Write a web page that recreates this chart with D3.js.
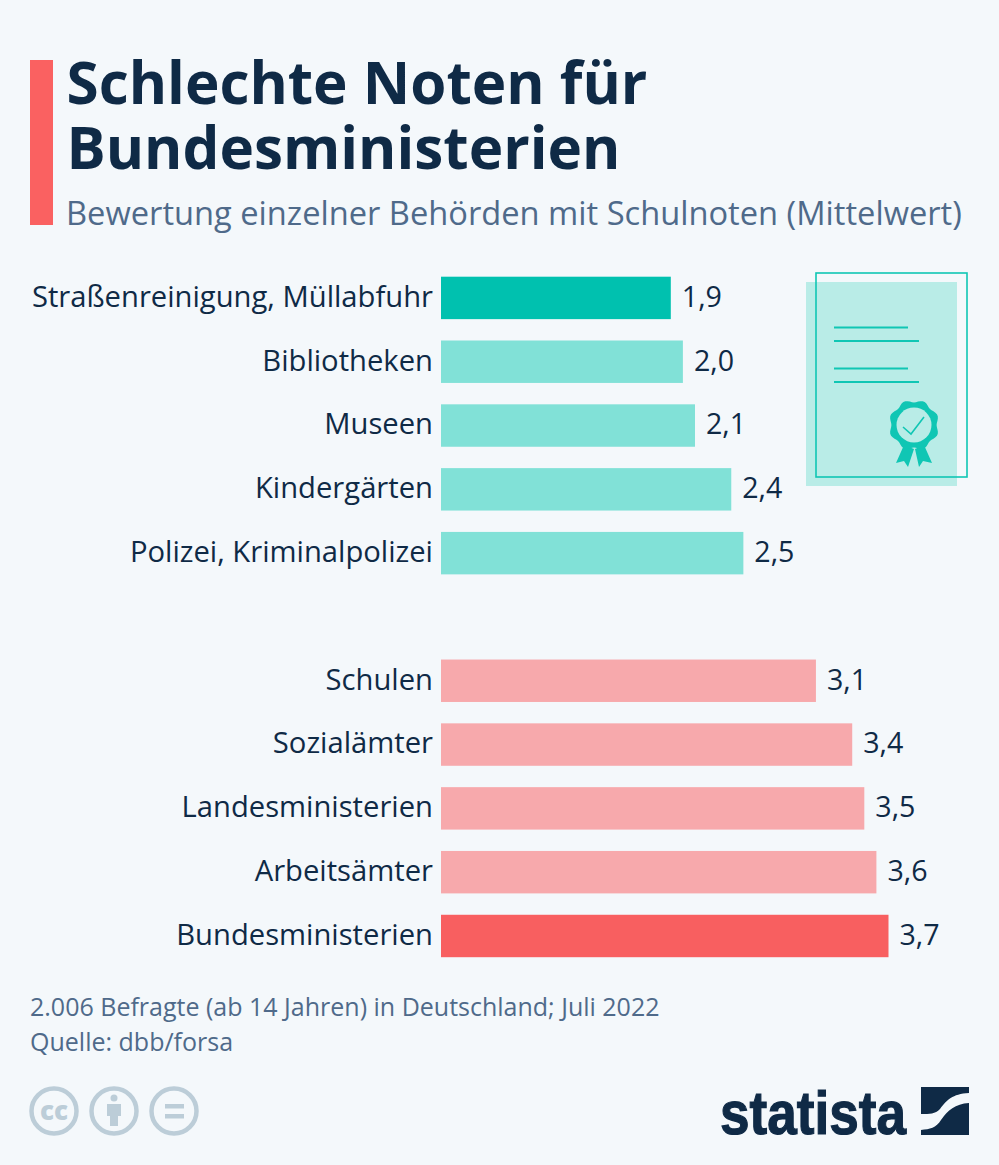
<!DOCTYPE html>
<html><head><meta charset="utf-8">
<script src="https://cdnjs.cloudflare.com/ajax/libs/d3/7.8.5/d3.min.js"></script>
<style>html,body{margin:0;padding:0;background:#f4f8fb}svg{display:block}text{font-family:"Open Sans",sans-serif}</style>
</head><body><svg id="c" width="999" height="1165"></svg>
<script>
const categories=["Straßenreinigung, Müllabfuhr","Bibliotheken","Museen","Kindergärten","Polizei, Kriminalpolizei","","Schulen","Sozialämter","Landesministerien","Arbeitsämter","Bundesministerien"];
const values=[1.9,2.0,2.1,2.4,2.5,null,3.1,3.4,3.5,3.6,3.7];
const barColors=["#00c1af","#81e1d7","#81e1d7","#81e1d7","#81e1d7",null,"#f7a9ac","#f7a9ac","#f7a9ac","#f7a9ac","#f85f60"];
const titleLines=["Schlechte Noten für","Bundesministerien"];
const subtitle="Bewertung einzelner Behörden mit Schulnoten (Mittelwert)";
const notes=["2.006 Befragte (ab 14 Jahren) in Deutschland; Juli 2022","Quelle: dbb/forsa"];
const navy="#0f2a46",slate="#4f6a8a",teal="#10c6b4",grey="#bccdd8";
const svg=d3.select("#c");
svg.append("rect").attr("width",999).attr("height",1165).attr("fill","#f4f8fb");
svg.append("rect").attr("x",30).attr("y",60).attr("width",23).attr("height",165).attr("fill","#fa6161");
svg.selectAll(".t").data(titleLines).join("text").attr("x",66.5).attr("y",(d,i)=>104+i*65)
 .attr("font-size",58.4).attr("font-weight",700).attr("fill",navy).text(d=>d);
svg.append("text").attr("x",66).attr("y",225).attr("font-size",32.65).attr("fill",slate).text(subtitle);
const x=d3.scaleLinear().domain([0,3.7]).range([441,888.5]);
const y=d3.scaleBand().domain(categories).range([277,957.5]).paddingInner(0.335).paddingOuter(0);
const rows=categories.map((c,i)=>({c,v:values[i],col:barColors[i]})).filter(d=>d.v!==null);
svg.selectAll(".bar").data(rows).join("rect").attr("x",x(0)).attr("y",d=>y(d.c)-0.3)
 .attr("width",d=>x(d.v)-x(0)).attr("height",y.bandwidth()).attr("fill",d=>d.col);
svg.selectAll(".lab").data(rows).join("text").attr("x",433).attr("y",d=>y(d.c)+y.bandwidth()/2+8.5)
 .attr("text-anchor","end").attr("font-size",29.2).attr("fill",navy).text(d=>d.c);
svg.selectAll(".val").data(rows).join("text").attr("x",d=>x(d.v)+11).attr("y",d=>y(d.c)+y.bandwidth()/2+8.5)
 .attr("font-size",28.6).attr("fill",navy).text(d=>d3.format(".1f")(d.v).replace(".",","));
svg.selectAll(".n").data(notes).join("text").attr("x",30).attr("y",(d,i)=>1015.5+i*35)
 .attr("font-size",25).attr("fill",slate).text(d=>d);
// certificate
const g=svg.append("g");
g.append("rect").attr("x",806).attr("y",282).attr("width",151).attr("height",204).attr("fill","#b9ece7");
g.append("rect").attr("x",816).attr("y",273).attr("width",151).attr("height",204).attr("fill","none").attr("stroke",teal).attr("stroke-width",1.6);
[[834,908,327.5],[834,919,341],[834,908,368.5],[834,919,382]].forEach(l=>g.append("line").attr("x1",l[0]).attr("x2",l[1]).attr("y1",l[2]).attr("y2",l[2]).attr("stroke",teal).attr("stroke-width",2));
const cx=914,cy=425;
const pts=d3.range(0,72).map(i=>{const a=i/72*2*Math.PI,r=24-1.4*Math.cos(8*a);return [cx+r*Math.sin(a),cy-r*Math.cos(a)];});
g.append("path").attr("d","M896,463 L904,445 L914,449 L908,467 L904,461Z M915,449 L924,445 L932,463 L923,461 L919,467Z").attr("fill",teal);
g.append("path").attr("d",d3.line().curve(d3.curveLinearClosed)(pts)).attr("fill",teal);
g.append("circle").attr("cx",cx).attr("cy",cy).attr("r",17.5).attr("fill","#b9ece7");
g.append("path").attr("d","M903,427 L911,434 L924,417").attr("fill","none").attr("stroke",teal).attr("stroke-width",1.6);
// cc icons
const ic=svg.append("g");
[54,114,174].forEach(c=>ic.append("circle").attr("cx",c).attr("cy",1111).attr("r",22.5).attr("fill","none").attr("stroke",grey).attr("stroke-width",4.5));
ic.append("text").attr("x",54).attr("y",1120).attr("text-anchor","middle").attr("font-size",26).attr("font-weight",800).attr("fill",grey).text("cc");
ic.append("circle").attr("cx",114).attr("cy",1098).attr("r",3.5).attr("fill",grey);
ic.append("path").attr("d","M107,1104 H121 V1116 H118 V1126 H110 V1116 H107Z").attr("fill",grey);
ic.append("rect").attr("x",165).attr("y",1104).attr("width",19).attr("height",4.5).attr("fill",grey);
ic.append("rect").attr("x",165).attr("y",1114).attr("width",19).attr("height",4.5).attr("fill",grey);
// logo
svg.append("text").attr("x",720).attr("y",1134).attr("textLength",186).attr("lengthAdjust","spacingAndGlyphs")
 .attr("font-size",62).attr("font-weight",700).attr("fill",navy).attr("stroke",navy).attr("stroke-width",1.2).style("font-family","'Liberation Sans Narrow','Liberation Sans',sans-serif").text("statista");
svg.append("path").attr("d","M921,1087 H969 V1093 C952,1094 947,1100 940,1109 C935,1114 930,1114 921,1114Z M969,1103 C955,1104 948,1110 941,1120 C936,1128 930,1129 921,1130 V1135 H969Z").attr("fill",navy);
</script></body></html>
